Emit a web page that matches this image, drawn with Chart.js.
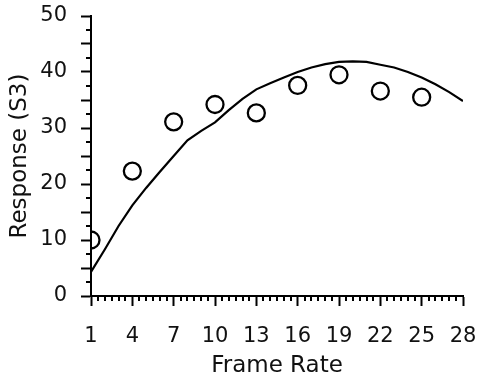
<!DOCTYPE html>
<html>
<head>
<meta charset="utf-8">
<script src="https://cdn.jsdelivr.net/npm/chart.js@4.4.0/dist/chart.umd.min.js"></script>
<style>
html, body { margin: 0; padding: 0; background: #fff; }
#wrap { width: 482px; height: 386px; }
</style>
</head>
<body>
<div id="wrap"><canvas id="chart"></canvas></div>
<script>
// measured responses
const frameRates = [1, 4, 7, 10, 13, 16, 19, 22, 25];
const responses = [10, 22.3, 31.1, 34.2, 32.7, 37.6, 39.5, 36.6, 35.5];

// fitted curve
const fitX = [1, 2, 3, 4, 5, 6, 7, 8, 9, 10, 11, 12, 13, 14, 15, 16, 17, 18, 19, 20, 21, 22, 23, 24, 25, 26, 27, 28];
const fitY = [4.3, 8.3, 12.5, 16.2, 19.3, 22.2, 25, 27.8, 29.5, 31, 33.2, 35.2, 36.9, 38, 39, 40, 40.8, 41.4, 41.8, 41.9, 41.8, 41.3, 40.8, 40, 39, 37.8, 36.4, 34.8];

const xTicks = [1, 4, 7, 10, 13, 16, 19, 22, 25, 28];
const yTicks = [0, 5, 10, 15, 20, 25, 30, 35, 40, 45, 50];
const xMinor = [];
for (let v = 1.5; v < 28; v += 0.5) if (!xTicks.includes(v)) xMinor.push(v);
const yMinor = [];
for (let v = 2.5; v < 50; v += 5) yMinor.push(v);

const font = 'DejaVu Sans';
const ink = '#111';

// short ticks between the long ones
const minorTicks = {
  id: 'minorTicks',
  afterDraw(chart) {
    const { ctx, scales: { x, y } } = chart;
    ctx.save();
    ctx.strokeStyle = '#000';
    ctx.lineWidth = 2;
    ctx.beginPath();
    xMinor.forEach(v => {
      const px = Math.round(x.getPixelForValue(v));
      ctx.moveTo(px, y.bottom);
      ctx.lineTo(px, y.bottom + 5);
    });
    yMinor.forEach(v => {
      const py = Math.round(y.getPixelForValue(v));
      ctx.moveTo(x.left, py);
      ctx.lineTo(x.left - 5, py);
    });
    ctx.stroke();
    ctx.restore();
  }
};

// fixed box sizes, no automatic label padding
function fitBox(s, w, h) {
  if (w) s.width = w;
  if (h) s.height = h;
  s.paddingTop = 0;
  s.paddingBottom = 0;
  s.paddingLeft = 0;
  s.paddingRight = 0;
}

new Chart(document.getElementById('chart'), {
  type: 'scatter',
  data: {
    datasets: [
      {
        label: 'Fit',
        data: fitX.map((v, i) => ({ x: v, y: fitY[i] })),
        showLine: true,
        borderColor: '#000',
        borderWidth: 2.2,
        pointRadius: 0,
        tension: 0,
        clip: 0
      },
      {
        label: 'Data',
        data: frameRates.map((v, i) => ({ x: v, y: responses[i] })),
        showLine: false,
        pointStyle: 'circle',
        pointRadius: 8.5,
        borderColor: '#000',
        borderWidth: 2.3,
        backgroundColor: 'rgba(0,0,0,0)',
        clip: 0
      }
    ]
  },
  options: {
    responsive: true,
    maintainAspectRatio: false,
    animation: false,
    layout: { padding: { top: 16, right: 19, left: 0, bottom: 0 } },
    plugins: { legend: { display: false }, tooltip: { enabled: false } },
    scales: {
      x: {
        type: 'linear',
        min: 1,
        max: 28,
        afterBuildTicks: s => { s.ticks = xTicks.map(v => ({ value: v })); },
        afterFit: s => fitBox(s, 0, 90),
        border: { display: true, color: '#000', width: 2 },
        grid: { drawOnChartArea: false, tickLength: 10, tickWidth: 2, tickColor: '#000' },
        ticks: { color: ink, padding: 18, font: { family: font, size: 21 }, maxRotation: 0, autoSkip: false },
        title: { display: true, text: 'Frame Rate', color: ink, font: { family: font, size: 23 }, padding: { top: 4, bottom: 6 } }
      },
      y: {
        type: 'linear',
        min: 0,
        max: 50,
        afterBuildTicks: s => { s.ticks = yTicks.map(v => ({ value: v })); },
        afterFit: s => fitBox(s, 91, 0),
        border: { display: true, color: '#000', width: 2 },
        grid: { drawOnChartArea: false, tickLength: 10, tickWidth: 2, tickColor: '#000' },
        ticks: {
          color: ink, padding: 14, font: { family: font, size: 21 }, autoSkip: false,
          callback: v => (v % 10 === 0 ? String(v) : '')
        },
        title: { display: true, text: 'Response (S3)', color: ink, font: { family: font, size: 23 }, padding: { top: 6, bottom: 4 } }
      }
    }
  },
  plugins: [minorTicks]
});
</script>
</body>
</html>
